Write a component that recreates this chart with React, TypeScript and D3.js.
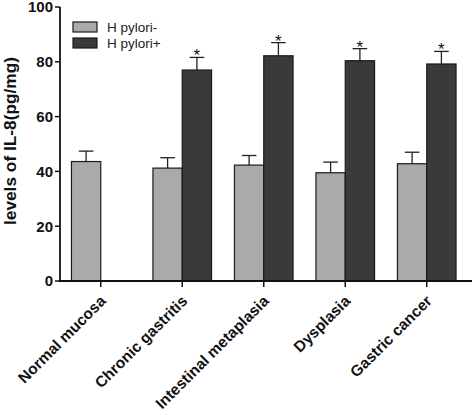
import React from "react";
import * as d3 from "d3";

const categories = ["Normal mucosa", "Chronic gastritis", "Intestinal metaplasia", "Dysplasia", "Gastric cancer"];
const seriesNames = ["H pylori-", "H pylori+"];
const negMean = [43.6, 41.2, 42.3, 39.5, 42.8];
const negErr = [3.8, 3.8, 3.5, 3.9, 4.2];
const posMean: (number | null)[] = [null, 77.0, 82.2, 80.4, 79.2];
const posErr: (number | null)[] = [null, 4.6, 4.8, 4.4, 4.6];
const yTicks = [0, 20, 40, 60, 80, 100];

const W = 472, H = 415;
const left = 60, right = 467.5, top = 7, bottom = 281;
const barW = 29.3;
const colors = ["#aaaaaa", "#3a3a3a"];
const font = "Arial, 'Liberation Sans', Helvetica, sans-serif";

export default function App() {
  const x = d3.scaleBand<string>().domain(categories).range([left, right]).padding(0);
  const y = d3.scaleLinear().domain([0, 100]).range([bottom, top]);

  const bars: any[] = [];
  categories.forEach((c, i) => {
    const cx = (x(c) as number) + x.bandwidth() / 2;
    const series = [
      { m: negMean[i], e: negErr[i], x0: cx - barW, s: 0 },
      { m: posMean[i], e: posErr[i], x0: cx, s: 1 },
    ];
    series.forEach((d) => {
      if (d.m == null) return;
      const bx = d.x0;
      const mid = bx + barW / 2;
      const ty = y(d.m);
      const ey = y(d.m + (d.e as number));
      bars.push(
        <g key={c + d.s}>
          <line x1={mid} x2={mid} y1={ty} y2={ey} stroke="#222" strokeWidth={1.3} />
          <line x1={mid - 7.3} x2={mid + 7.3} y1={ey} y2={ey} stroke="#222" strokeWidth={1.3} />
          <rect x={bx} y={ty} width={barW} height={bottom - ty} fill={colors[d.s]} stroke="#1a1a1a" strokeWidth={1.2} />
          {d.s === 1 && (
            <text x={mid} y={ey + 4} textAnchor="middle" fontFamily={font} fontSize={17} fill="#111">*</text>
          )}
        </g>
      );
    });
  });

  return (
    <svg width={W} height={H} style={{ position: "absolute", left: 0, top: 0, background: "#fff" }}>
      {bars}
      {/* y axis */}
      <line x1={left} x2={left} y1={top} y2={bottom} stroke="#111" strokeWidth={1.8} />
      {yTicks.map((t) => (
        <g key={t}>
          <line x1={left - 5} x2={left} y1={y(t)} y2={y(t)} stroke="#111" strokeWidth={1.5} />
          <text x={left - 7} y={y(t)} dy="0.36em" textAnchor="end" fontFamily={font} fontWeight="bold" fontSize={15} fill="#111">{t}</text>
        </g>
      ))}
      {/* x axis */}
      <line x1={left - 1} x2={W} y1={bottom} y2={bottom} stroke="#111" strokeWidth={1.8} />
      {categories.map((c) => {
        const cx = (x(c) as number) + x.bandwidth() / 2;
        return (
          <g key={c}>
            <line x1={cx} x2={cx} y1={bottom} y2={bottom + 6} stroke="#111" strokeWidth={1.5} />
            <text transform={`translate(${cx + 6},${bottom + 21}) rotate(-45)`} textAnchor="end" fontFamily={font} fontWeight="bold" fontSize={15.5} fill="#111">{c}</text>
          </g>
        );
      })}
      {/* y title */}
      <text transform={`translate(16,141) rotate(-90)`} textAnchor="middle" fontFamily={font} fontWeight="bold" fontSize={17.3} fill="#111">levels of IL-8(pg/mg)</text>
      {/* legend */}
      {seriesNames.map((s, i) => (
        <g key={s}>
          <rect x={73} y={22 + i * 16} width={24} height={10} fill={colors[i]} stroke="#1a1a1a" strokeWidth={1.2} />
          <text x={107} y={31.5 + i * 16} fontFamily={font} fontSize={13.5} fill="#222">{s}</text>
        </g>
      ))}
    </svg>
  );
}
